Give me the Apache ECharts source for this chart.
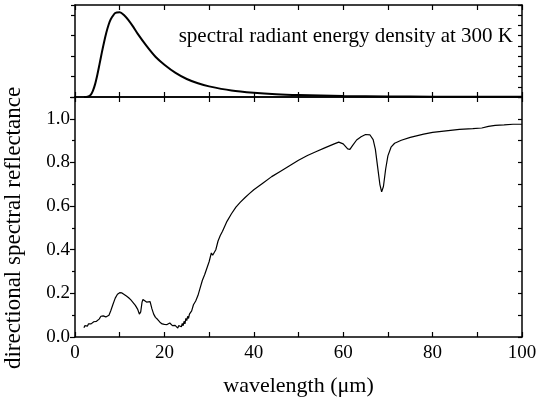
<!DOCTYPE html>
<html>
<head>
<meta charset="utf-8">
<script src="https://cdn.jsdelivr.net/npm/echarts@6/dist/echarts.min.js"></script>
<style>
  html, body { margin: 0; padding: 0; background: #fff; }
  #chart { width: 537px; height: 407px; }
</style>
</head>
<body>
<div id="chart"></div>
<script>
// spectral radiant energy density at 300 K (arbitrary units)
const planckWavelength = [2, 2.5, 3, 3.5, 4, 4.5, 5, 5.5, 6, 6.5, 7, 7.5, 8, 9, 10, 11, 12, 13, 14, 16, 18, 20, 22.5, 25, 27.5, 30, 35, 40, 45, 50, 60, 70, 80, 90, 100];
const planckValue = [0, 0.002, 0.023, 0.1, 0.3, 0.63, 1.09, 1.62, 2.17, 2.68, 3.14, 3.52, 3.8, 4.11, 4.15, 4.0, 3.75, 3.44, 3.1, 2.5, 1.97, 1.58, 1.18, 0.88, 0.67, 0.52, 0.32, 0.21, 0.14, 0.1, 0.052, 0.03, 0.018, 0.012, 0.008];

// directional spectral reflectance (bottom panel)
const reflWavelength = [
  2.0, 2.2, 2.4, 2.6, 2.8, 3.0, 3.2, 3.4, 3.6, 3.8, 4.0, 4.2, 4.4, 4.6, 4.8, 5.0, 5.2, 5.4, 5.6, 5.8,
  6.0, 6.3, 6.6, 6.9, 7.2, 7.6, 8.0, 8.5, 9.0, 9.5, 10.0, 10.5, 11.0, 11.5, 12.0, 12.5, 13.0, 13.5, 14.0, 14.4,
  14.7, 15.0, 15.2, 15.6, 16.0, 16.4, 16.8, 17.2, 17.6, 18.0, 18.5, 19.0, 19.5, 20.0, 20.2, 20.4, 20.6, 20.8, 21.0, 21.2,
  21.4, 21.6, 21.8, 22.0, 22.2, 22.4, 22.6, 22.8, 23.0, 23.2, 23.4, 23.6, 23.8, 24.0, 24.2, 24.4, 24.6, 24.8, 25.0, 25.2,
  25.4, 25.6, 25.8, 26.1, 26.5, 27.0, 27.5, 28.0, 28.5, 29.0, 29.5, 30.0, 30.5, 30.8, 31.1, 31.5, 32.0, 32.5, 33.0, 34.0,
  35.0, 36.0, 37.0, 38.0, 39.0, 40.0, 42.0, 44.0, 46.0, 48.0, 50.0, 52.0, 54.0, 56.0, 58.0, 59.0, 60.0, 61.0, 61.5, 62.0,
  63.0, 64.0, 65.0, 66.0, 66.7, 67.2, 67.7, 68.2, 68.6, 69.0, 69.5, 70.0, 70.7, 71.5, 73.0, 75.0, 78.0, 80.0, 83.0, 86.0,
  89.0, 91.0, 92.5, 94.0, 96.0, 98.0, 100.0
];
const reflValue = [
  0.042, 0.052, 0.046, 0.056, 0.05, 0.06, 0.055, 0.064, 0.06, 0.066, 0.065, 0.07, 0.067, 0.074, 0.072, 0.078, 0.077, 0.082, 0.088, 0.095,
  0.098, 0.097, 0.095, 0.092, 0.094, 0.1, 0.12, 0.15, 0.178, 0.196, 0.203, 0.202, 0.195, 0.188, 0.18, 0.17, 0.158, 0.145, 0.128, 0.105,
  0.115, 0.16, 0.172, 0.165, 0.16, 0.168, 0.162, 0.13, 0.105, 0.09, 0.08, 0.068, 0.06, 0.058, 0.054, 0.06, 0.057, 0.063, 0.06, 0.064,
  0.057, 0.06, 0.052, 0.056, 0.047, 0.053, 0.044, 0.05, 0.041, 0.052, 0.045, 0.056, 0.047, 0.062, 0.052, 0.072, 0.06, 0.085, 0.075, 0.095,
  0.085, 0.105, 0.098, 0.12, 0.148, 0.165, 0.19, 0.225, 0.26, 0.285, 0.315, 0.345, 0.385, 0.375, 0.37, 0.4, 0.44, 0.465, 0.485, 0.53,
  0.565, 0.595, 0.618, 0.638, 0.657, 0.675, 0.705, 0.735, 0.76, 0.785, 0.81, 0.832, 0.85, 0.868, 0.885, 0.893, 0.885, 0.862, 0.86, 0.875,
  0.903, 0.918, 0.928, 0.926, 0.905, 0.86, 0.78, 0.7, 0.665, 0.69, 0.77, 0.83, 0.87, 0.888, 0.902, 0.915, 0.93, 0.938, 0.945, 0.952,
  0.955, 0.958, 0.965, 0.97, 0.972, 0.975, 0.975
];

const titleText = 'spectral radiant energy density at 300 K';
const xName = 'wavelength (μm)';
const yName = 'directional spectral reflectance';

const font = 'Liberation Serif';
const ink = '#000';

const zip = (xs, ys) => xs.map((x, i) => [x, ys[i]]);

const axisLine = { show: true, onZero: false, lineStyle: { color: ink, width: 1.5 } };

// x axes: 0,1 for the top grid, 2,3 for the bottom grid
function xAxis(gridIndex, position, labels) {
  return {
    type: 'value', gridIndex, position, min: 0, max: 100, interval: 20,
    axisLine,
    axisTick: { show: true, inside: true, length: 5, lineStyle: { color: ink, width: 1.2 } },
    minorTick: { show: true, splitNumber: 2, length: 5, lineStyle: { color: ink, width: 1.2 } },
    axisLabel: { show: labels, color: ink, fontFamily: font, fontSize: 19, margin: 7 },
    splitLine: { show: false },
    name: labels ? xName : '',
    nameLocation: 'middle', nameGap: 38,
    nameTextStyle: { color: ink, fontFamily: font, fontSize: 22 }
  };
}

const option = {
  animation: false,
  backgroundColor: '#fff',
  title: {
    text: titleText, right: 19, top: 21,
    textStyle: { color: ink, fontFamily: font, fontSize: 21, fontWeight: 'normal' }
  },
  grid: [
    { left: 75, right: 15, top: 5, height: 92, outerBoundsMode: 'none' },
    { left: 75, right: 15, top: 97, height: 240, outerBoundsMode: 'none' }
  ],
  xAxis: [
    xAxis(0, 'bottom', false),
    xAxis(0, 'top', false),
    xAxis(1, 'bottom', true),
    xAxis(1, 'top', false)
  ],
  yAxis: [
    {
      type: 'value', gridIndex: 0, position: 'left', min: 0, max: 4.5, interval: 1,
      axisLine, splitLine: { show: false },
      axisTick: { show: true, inside: false, length: 4, lineStyle: { color: ink, width: 1.2 } },
      axisLabel: { show: false }
    },
    {
      type: 'value', gridIndex: 0, position: 'right', min: 0, max: 4.5, interval: 1,
      axisLine, splitLine: { show: false },
      axisTick: { show: true, inside: true, length: 4, lineStyle: { color: ink, width: 1.2 } },
      minorTick: { show: true, splitNumber: 2, length: 4, lineStyle: { color: ink, width: 1.2 } },
      axisLabel: { show: false }
    },
    {
      type: 'value', gridIndex: 1, position: 'left', min: 0, max: 1.1, interval: 0.2,
      axisLine, splitLine: { show: false },
      axisTick: { show: true, inside: false, length: 5, lineStyle: { color: ink, width: 1.2 } },
      minorTick: { show: true, splitNumber: 2, length: 3, lineStyle: { color: ink, width: 1.2 } },
      axisLabel: {
        color: ink, fontFamily: font, fontSize: 19, margin: 5,
        formatter: v => (v > 1.05 ? '' : v.toFixed(1))
      },
      name: yName, nameLocation: 'middle', nameGap: 50,
      nameTextStyle: { color: ink, fontFamily: font, fontSize: 23, padding: [0, 22, 0, 0] }
    },
    {
      type: 'value', gridIndex: 1, position: 'right', min: 0, max: 1.1, interval: 0.1,
      axisLine, splitLine: { show: false },
      axisTick: { show: true, inside: true, length: 4, lineStyle: { color: ink, width: 1.2 } },
      axisLabel: { show: false }
    }
  ],
  series: [
    {
      type: 'line', xAxisIndex: 0, yAxisIndex: 0, data: zip(planckWavelength, planckValue),
      smooth: 0.3, showSymbol: false, lineStyle: { color: ink, width: 2 }
    },
    {
      type: 'line', xAxisIndex: 2, yAxisIndex: 2, data: zip(reflWavelength, reflValue),
      showSymbol: false, lineStyle: { color: ink, width: 1.2 }
    }
  ]
};

const chart = echarts.init(document.getElementById('chart'), null, { renderer: 'canvas' });
chart.setOption(option);
</script>
</body>
</html>
